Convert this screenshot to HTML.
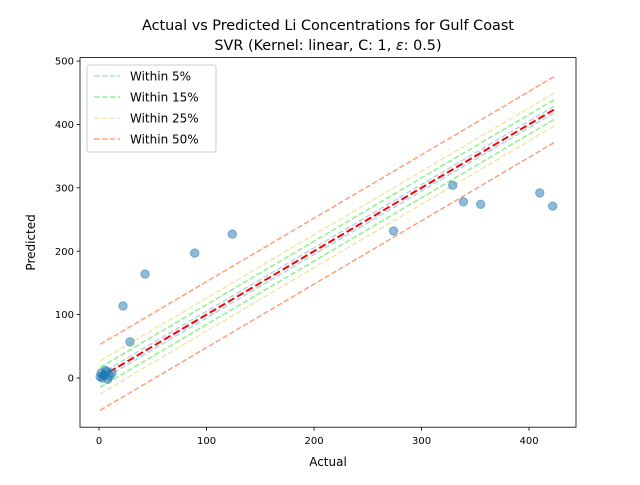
<!DOCTYPE html>
<html><head><meta charset="utf-8"><style>
body{margin:0;background:#fff;font-family:"Liberation Sans","DejaVu Sans",sans-serif}
svg text{font-family:"DejaVu Sans","Liberation Sans",sans-serif}
</style></head><body>
<svg id="chart" width="640" height="480" xmlns="http://www.w3.org/2000/svg">
<rect width="640" height="480" fill="#fff"/>
<text x="328" y="30" font-size="14.4" text-anchor="middle">Actual vs Predicted Li Concentrations for Gulf Coast</text>
<text x="328" y="50" font-size="14.4" text-anchor="middle">SVR (Kernel: linear, C: 1, <tspan font-style="italic">ε</tspan>: 0.5)</text>
<g id="lines"></g><g id="pts"></g><g id="axes"></g>
<text x="328" y="466" font-size="12" text-anchor="middle">Actual</text>
<text transform="translate(35,242.4) rotate(-90)" font-size="12" text-anchor="middle">Predicted</text>
<g>
<rect x="87" y="65" width="129" height="87" rx="2" fill="#fff" fill-opacity="0.8" stroke="#ccc"/>
<line x1="94" y1="76" x2="120" y2="76" stroke="#add8e6" stroke-width="1.5" stroke-dasharray="5.5,2.4"/>
<text x="130" y="80.5" font-size="12">Within 5%</text>
<line x1="94" y1="97" x2="120" y2="97" stroke="#90ee90" stroke-width="1.5" stroke-dasharray="5.5,2.4"/>
<text x="130" y="101.5" font-size="12">Within 15%</text>
<line x1="94" y1="118" x2="120" y2="118" stroke="#eee8aa" stroke-width="1.5" stroke-dasharray="5.5,2.4"/>
<text x="130" y="122.5" font-size="12">Within 25%</text>
<line x1="94" y1="139" x2="120" y2="139" stroke="#ffa07a" stroke-width="1.5" stroke-dasharray="5.5,2.4"/>
<text x="130" y="143.5" font-size="12">Within 50%</text>
</g>
</svg>
<script>
const actual=[1,3,5,7,10,12,8,2,4,6,28.8,22.3,42.8,89,124,274,329,339,355,410,422];
const predicted=[2,0,5,10,3,8,-2,8,4,12,57,113.6,164,197,227,232,304,278,274,292,271];
const lineRange=[1,425];
const bandBase=104;
const bandPcts=[5,15,25,50];
const bandColors=["#add8e6","#90ee90","#eee8aa","#ffa07a"];
const xTicks=[0,100,200,300,400];
const yTicks=[0,100,200,300,400,500];
const L=80,R=576,T=57.6,B=427.2,X0=-17.7,X1=443.7,Y0=-77.6,Y1=505.4;
const sx=v=>L+(v-X0)/(X1-X0)*(R-L), sy=v=>B-(v-Y0)/(Y1-Y0)*(B-T);
const NS="http://www.w3.org/2000/svg";
function mk(t,a,p){const e=document.createElementNS(NS,t);for(const k in a)e.setAttribute(k,a[k]);p.appendChild(e);return e;}
const lines=document.getElementById('lines'),pts=document.getElementById('pts'),axes=document.getElementById('axes');
const mn=lineRange[0],mx=lineRange[1];
bandPcts.forEach((p,i)=>{[1,-1].forEach(s=>{const off=s*p/100*bandBase;
const l=mk('line',{x1:sx(mn),y1:sy(mn+off),x2:sx(mx),y2:sy(mx+off),stroke:bandColors[i],'stroke-width':1.5,'stroke-dasharray':'5.5,2.4'},lines);

});});
const rl=mk('line',{x1:sx(mn),y1:sy(mn),x2:sx(mx),y2:sy(mx),stroke:'#ff0000','stroke-width':2,'stroke-dasharray':'7.4,3.2'},lines);


actual.forEach((a,i)=>{const c=mk('circle',{cx:sx(a),cy:sy(predicted[i]),r:4.2,fill:'#1f77b4','fill-opacity':0.5,stroke:'#1f77b4','stroke-opacity':0.5},pts);

});
mk('rect',{x:L,y:T,width:R-L,height:B-T,fill:'none',stroke:'#000','stroke-width':0.8},axes);
xTicks.forEach(v=>{mk('line',{x1:sx(v),y1:B,x2:sx(v),y2:B+3.5,stroke:'#000','stroke-width':0.8},axes);
const t=mk('text',{x:sx(v),y:B+17,'font-size':10,'text-anchor':'middle'},axes);t.textContent=v;

});
yTicks.forEach(v=>{mk('line',{x1:L-3.5,y1:sy(v),x2:L,y2:sy(v),stroke:'#000','stroke-width':0.8},axes);
const t=mk('text',{x:L-6,y:sy(v)+3.6,'font-size':10,'text-anchor':'end'},axes);t.textContent=v;

});
</script>
</body></html>
